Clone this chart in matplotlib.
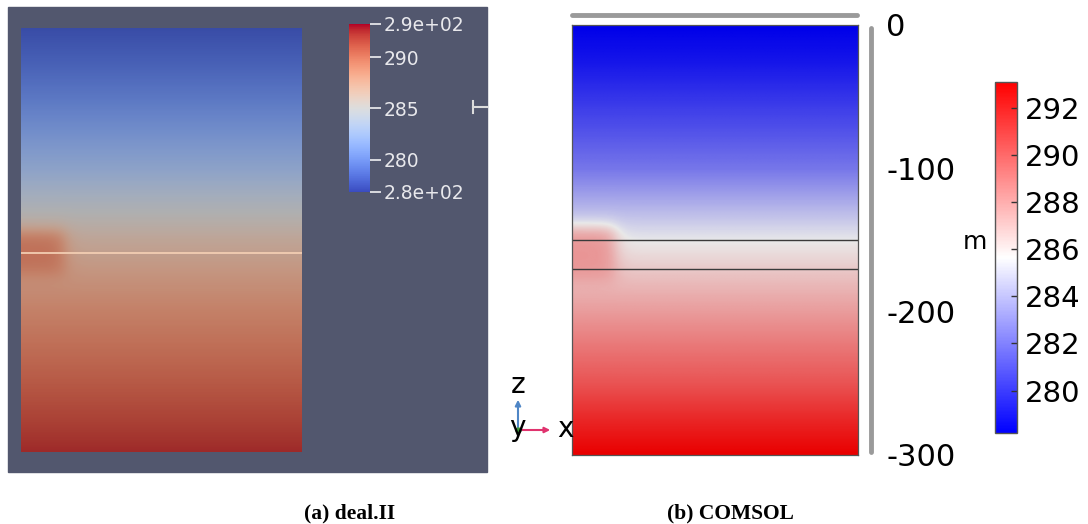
import numpy as np
import matplotlib
matplotlib.use("Agg")
import matplotlib.pyplot as plt
from matplotlib.colors import Normalize
from matplotlib.colorbar import ColorbarBase
from matplotlib.lines import Line2D
from matplotlib.patches import Rectangle, FancyArrowPatch

plt.rcParams['font.family'] = ['DejaVu Sans']
plt.rcParams['axes.unicode_minus'] = False

# depth profile (m below top) and temperature
depth = [0, 25, 50, 75, 100, 125, 150, 175, 200, 225, 250, 275, 300]
temp_dealii = [277.6, 278.6, 279.8, 281.2, 282.7, 284.6, 286.4, 287.7, 288.8, 289.7, 290.6, 291.5, 292.4]
temp_comsol = [278.2, 278.9, 279.9, 280.9, 282.0, 283.8, 285.6, 286.9, 288.1, 289.3, 290.4, 291.8, 293.1]

# warm plume near the well (x from 0), aquifer layer
plume_len = [31, 30]          # m
plume_top = [144, 142]        # depth m
plume_bot = [175, 179]
plume_temp = [289.6, 288.3]
aquifer = [-150, -170]        # layer boundaries (COMSOL)
mesh_line = -159              # bright line in deal.II view

range_dealii = (276.84, 293.25)
range_comsol = (278.2, 293.1)
cb_dealii_ticks = [276.84, 280, 285, 290, 293.25]
cb_dealii_labels = ['2.8e+02', '280', '285', '290', '2.9e+02']
cb_comsol_ticks = [280, 282, 284, 286, 288, 290, 292]
z_ticks = [0, -100, -200, -300]

W, H = 1088, 524
fig = plt.figure(figsize=(W / 100, H / 100), dpi=100)


def box(x0, y0, x1, y1):
    return [x0 / W, 1 - y1 / H, (x1 - x0) / W, (y1 - y0) / H]


def field(profile, i):
    x = np.linspace(0, 200, 401)
    d = np.linspace(0, 300, 601)
    X, D = np.meshgrid(x, d)
    T = np.interp(D, depth, profile)
    s = 3.5
    w = (1 / (1 + np.exp((X - plume_len[i]) / s))
         / (1 + np.exp((plume_top[i] - D) / s))
         / (1 + np.exp((D - plume_bot[i]) / s)))
    return T + w * (plume_temp[i] - T)


def clean(ax):
    ax.set_xticks([])
    ax.set_yticks([])
    for s in ax.spines.values():
        s.set_visible(False)


# ---------------- (a) deal.II / ParaView ----------------
bg = '#52576e'
fig.add_artist(Rectangle((8 / W, 1 - 472 / H), 479 / W, 465 / H,
                         transform=fig.transFigure, color=bg, zorder=0))

ax1 = fig.add_axes(box(21, 28, 302, 452))
ax1.set_facecolor('black')
ax1.imshow(field(temp_dealii, 0), cmap='coolwarm', vmin=range_dealii[0], vmax=range_dealii[1],
           extent=[0, 200, -300, 0], aspect='auto', alpha=0.8, interpolation='bilinear')
ax1.axhline(mesh_line, color='#f2cdb2', lw=1.3)
ax1.set_xlim(0, 200)
ax1.set_ylim(-300, 0)
clean(ax1)

cax1 = fig.add_axes(box(349, 24, 370, 192))
cb1 = ColorbarBase(cax1, cmap=plt.get_cmap('coolwarm'),
                   norm=Normalize(*range_dealii), orientation='vertical')
cb1.outline.set_visible(False)
cb1.set_ticks(cb_dealii_ticks)
cb1.set_ticklabels(cb_dealii_labels)
cax1.tick_params(axis='y', direction='out', length=8, width=1.3, color='#e4e4e8',
                 labelcolor='#e8e8ec', labelsize=13.5, pad=2)

fig.add_artist(Line2D([473 / W, 473 / W], [1 - 101 / H, 1 - 113 / H],
                      transform=fig.transFigure, color='#dcdcdc', lw=1.5))
fig.add_artist(Line2D([473 / W, 487 / W], [1 - 107 / H, 1 - 107 / H],
                      transform=fig.transFigure, color='#dcdcdc', lw=1.5))

# ---------------- (b) COMSOL ----------------
ax2 = fig.add_axes(box(572, 25, 858, 455))
ax2.set_facecolor('black')
ax2.imshow(field(temp_comsol, 1), cmap='bwr', vmin=range_comsol[0], vmax=range_comsol[1],
           extent=[0, 200, -300, 0], aspect='auto', alpha=0.92, interpolation='bilinear')
for zl in aquifer:
    ax2.axhline(zl, color='#3a3a3a', lw=1.0)
ax2.set_xlim(0, 200)
ax2.set_ylim(-300, 0)
ax2.set_xticks([])
ax2.set_yticks([])
for s in ax2.spines.values():
    s.set_color('#555555')
    s.set_linewidth(0.9)

# grey scale bars with elevation labels
fig.add_artist(Line2D([572 / W, 857 / W], [1 - 15 / H, 1 - 15 / H], transform=fig.transFigure,
                      color='#9a9a9a', lw=3.5, solid_capstyle='round'))
axz = fig.add_axes(box(866, 25, 871, 455))
axz.set_ylim(-300, 0)
axz.patch.set_visible(False)
axz.set_xticks([])
for k in ['left', 'top', 'bottom']:
    axz.spines[k].set_visible(False)
axz.spines['right'].set_color('#9a9a9a')
axz.spines['right'].set_linewidth(3.5)
axz.spines['right'].set_bounds(-298, -2)
axz.spines['right'].set_capstyle('round')
axz.yaxis.tick_right()
axz.set_yticks(z_ticks)
axz.set_yticklabels([str(t) for t in z_ticks])
axz.tick_params(axis='y', length=0, labelsize=22, pad=11, labelcolor='black')

cax2 = fig.add_axes(box(995, 82, 1017, 433))
cb2 = ColorbarBase(cax2, cmap=plt.get_cmap('bwr'),
                   norm=Normalize(*range_comsol), orientation='vertical')
cb2.outline.set_edgecolor('#555555')
cb2.outline.set_linewidth(1.0)
cb2.set_ticks(cb_comsol_ticks)
cax2.tick_params(axis='y', direction='in', length=4, width=1, color='#333333',
                 labelsize=21, pad=6)
fig.text(987 / W, 1 - 242 / H, 'm', ha='right', va='center', fontsize=18)

# axis triad
ox, oy = 518 / W, 1 - 430 / H
fig.add_artist(FancyArrowPatch((ox, oy), (ox, 1 - 397 / H), transform=fig.transFigure,
               arrowstyle='-|>', mutation_scale=8, color='#4f86c6', lw=1.5))
fig.add_artist(FancyArrowPatch((ox, oy), (553 / W, oy), transform=fig.transFigure,
               arrowstyle='-|>', mutation_scale=8, color='#e0336e', lw=1.5))
fig.add_artist(Line2D([ox], [oy], marker='o', ms=3.5, color='#3c9a3c', transform=fig.transFigure))
fig.text(518 / W, 1 - 385 / H, 'z', ha='center', va='center', fontsize=20)
fig.text(517 / W, 1 - 428 / H, 'y', ha='center', va='center', fontsize=20)
fig.text(565 / W, 1 - 429 / H, 'x', ha='center', va='center', fontsize=20)

# captions
fig.text(350 / W, 1 - 513 / H, '(a) deal.II', ha='center', va='center',
         family='Liberation Serif', weight='bold', fontsize=15.5)
fig.text(730 / W, 1 - 513 / H, '(b) COMSOL', ha='center', va='center',
         family='Liberation Serif', weight='bold', fontsize=15.5)

fig.savefig('out.png', dpi=100)
